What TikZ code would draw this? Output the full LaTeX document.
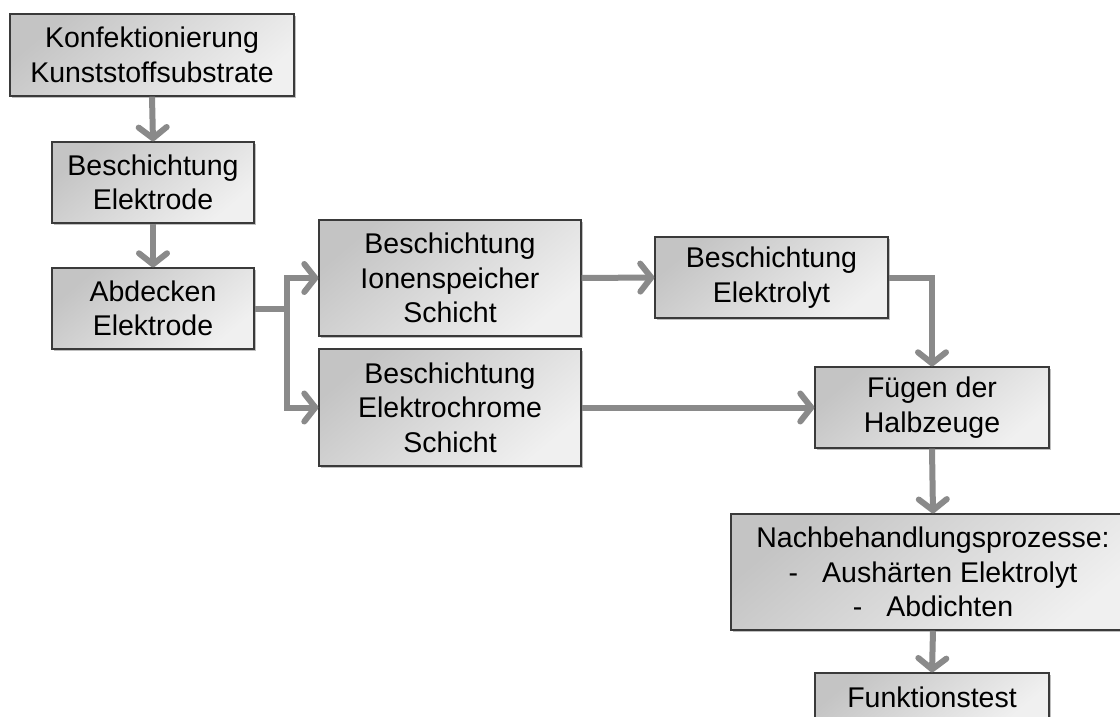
\documentclass[tikz,border=0pt]{standalone}
\usepackage{fontspec}
\setmainfont{Liberation Sans}
\usetikzlibrary{arrows.meta,shadows}
\definecolor{arrowgray}{HTML}{8A8A8A}
\definecolor{boxdark}{HTML}{C4C4C4}
\definecolor{boxlight}{HTML}{F0F0F0}
\definecolor{boxborder}{HTML}{3A3A3A}
\begin{document}
\begin{tikzpicture}[x=1pt,y=-1pt,
  procbox/.style={draw=boxborder, line width=1.4pt, rectangle, inner sep=0pt,
    top color=boxdark, bottom color=boxlight, shading angle=40,
    drop shadow={shadow xshift=1.5pt, shadow yshift=-2pt, opacity=0.25, fill=black},
    align=center, font=\fontsize{28.5}{34.5}\selectfont},
  flow/.style={draw=arrowgray, line width=6pt,
    -{Straight Barb[length=11pt,width=28pt,line width=6pt,round]}},
  ]
\useasboundingbox (0,0) rectangle (1120,717);
\fill[white] (0,0) rectangle (1120,717);
\begin{scope}
\clip (0,0) rectangle (1120,717);
\node[procbox, minimum width=284pt, minimum height=82pt] (k) at (152,55) {Konfektionierung\\Kunststoffsubstrate};
\node[procbox, minimum width=202pt, minimum height=81pt] (be) at (153,182.5) {Beschichtung\\Elektrode};
\node[procbox, minimum width=202pt, minimum height=81pt] (ae) at (153,308.5) {Abdecken\\Elektrode};
\node[procbox, minimum width=262pt, minimum height=116pt] (bi) at (450,278) {Beschichtung\\Ionenspeicher\\Schicht};
\node[procbox, minimum width=262pt, minimum height=117pt] (bec) at (450,407.5) {Beschichtung\\Elektrochrome\\Schicht};
\node[procbox, minimum width=233pt, minimum height=81pt] (bel) at (771.5,277.5) {Beschichtung\\Elektrolyt};
\node[procbox, minimum width=234pt, minimum height=81pt] (f) at (932,407.5) {Fügen der\\Halbzeuge};
\node[procbox, minimum width=404pt, minimum height=116pt] (n) at (933,572) {Nachbehandlungsprozesse:\\-\hspace{24pt}Aushärten Elektrolyt\\-\hspace{24pt}Abdichten};
\node[procbox, minimum width=234pt, minimum height=48pt] (fu) at (932,697) {Funktionstest};
\coordinate (split) at (287,308.5);
\draw[flow] (k.south) -- (be.north);
\draw[flow] (be.south) -- (ae.north);
\draw[draw=arrowgray, line width=6pt] (ae.east) -- (split);
\draw[flow] (split) |- (bi.west);
\draw[flow] (split) |- (bec.west);
\draw[flow] (bi.east) -- (bel.west);
\draw[flow] (bel.east) -| (f.north);
\draw[flow] (bec.east) -- (f.west);
\draw[flow] (f.south) -- (n.north);
\draw[flow] (n.south) -- (fu.north);
\end{scope}
\end{tikzpicture}
\end{document}
